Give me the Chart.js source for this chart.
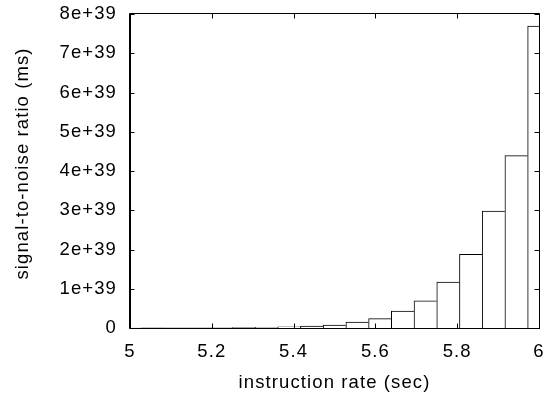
<!DOCTYPE html>
<html><head><meta charset="utf-8">
<script src="https://cdn.jsdelivr.net/npm/chart.js@4/dist/chart.umd.min.js"></script>
<style>html,body{margin:0;padding:0;background:#fff}#wrap{width:552px;height:395px}</style>
</head><body><div id="wrap"><canvas id="c" width="552" height="395"></canvas></div>
<script>
// ---- data ----
const xValues = [5, 5.0556, 5.1111, 5.1667, 5.2222, 5.2778, 5.3333, 5.3889, 5.4444, 5.5,
                 5.5556, 5.6111, 5.6667, 5.7222, 5.7778, 5.8333, 5.8889, 5.9444, 6];
const snrValues = [0.001e39, 0.0017e39, 0.0028e39, 0.0045e39, 0.0072e39, 0.0115e39, 0.019e39, 0.03e39, 0.048e39, 0.077e39,
                   0.15e39, 0.237e39, 0.43e39, 0.69e39, 1.17e39, 1.88e39, 2.98e39, 4.39e39, 7.69e39];
const xTickValues = [5, 5.2, 5.4, 5.6, 5.8, 6];
const xTickLabels = ['5', '5.2', '5.4', '5.6', '5.8', '6'];
const yTickValues = [0, 1e39, 2e39, 3e39, 4e39, 5e39, 6e39, 7e39, 8e39];
const yTickLabels = ['0', '1e+39', '2e+39', '3e+39', '4e+39', '5e+39', '6e+39', '7e+39', '8e+39'];
const xTitle = 'instruction rate (sec)';
const yTitle = 'signal-to-noise ratio (ms)';

const FONT_FAMILY = "'Liberation Sans', Arial, sans-serif";
const FONT_SIZE = 18.5;
const SPACING = '1.1px';
Chart.defaults.font.family = FONT_FAMILY;
Chart.defaults.font.size = FONT_SIZE;
Chart.defaults.color = '#000';

const frame = {
  id: 'frame',
  beforeUpdate(chart) { chart.ctx.letterSpacing = SPACING; },
  beforeDraw(chart) { chart.ctx.letterSpacing = SPACING; },
  afterDatasetsDraw(chart) {
    const {ctx, chartArea: a, scales: {x, y}} = chart;
    const L = a.left - 0.5, R = a.right + 0.5, T = a.top - 0.5, B = a.bottom + 0.5;
    const tl = 5;
    ctx.save();
    ctx.strokeStyle = '#000';
    ctx.lineWidth = 1;
    ctx.beginPath();
    ctx.rect(L, T, R - L, B - T);
    xTickValues.forEach(v => {
      const px = Math.round(x.getPixelForValue(v)) + 0.5;
      ctx.moveTo(px, B); ctx.lineTo(px, B - tl);
      ctx.moveTo(px, T); ctx.lineTo(px, T + tl);
    });
    yTickValues.forEach(v => {
      const py = Math.round(y.getPixelForValue(v)) + 0.5;
      ctx.moveTo(L, py); ctx.lineTo(L + tl, py);
      ctx.moveTo(R, py); ctx.lineTo(R - tl, py);
    });
    ctx.stroke();
    ctx.restore();
  },
  afterDraw(chart) {
    // y-axis title (rotated), placed as in the reference
    const {ctx} = chart;
    ctx.save();
    ctx.letterSpacing = SPACING;
    ctx.font = FONT_SIZE + 'px ' + FONT_FAMILY;
    ctx.fillStyle = '#000';
    ctx.textAlign = 'center';
    ctx.textBaseline = 'alphabetic';
    ctx.translate(28, 164);
    ctx.rotate(-Math.PI / 2);
    ctx.fillText(yTitle, 0.55, 0);
    ctx.restore();
  }
};

new Chart(document.getElementById('c'), {
  type: 'bar',
  data: {
    datasets: [{
      data: xValues.map((x, i) => ({x: x, y: snrValues[i]})),
      backgroundColor: '#fff',
      borderColor: '#000',
      borderWidth: {left: 1, top: 1, right: 0, bottom: 0},
      barPercentage: 1,
      categoryPercentage: 1,
      clip: 0
    }]
  },
  options: {
    responsive: false,
    animation: false,
    devicePixelRatio: 1,
    layout: {padding: {left: 0, top: 14, right: 13, bottom: 0}},
    plugins: {legend: {display: false}, tooltip: {enabled: false}},
    scales: {
      x: {
        type: 'linear', min: 5, max: 6, offset: false,
        grid: {display: false, drawTicks: false, offset: false},
        border: {display: true, color: '#000'},
        afterBuildTicks: s => { s.ticks = xTickValues.map(v => ({value: v})); },
        afterFit: s => { s.height = 67; s.paddingLeft = 0; s.paddingRight = 0; },
        ticks: {padding: 13, maxRotation: 0, autoSkip: false, callback: (v, i) => xTickLabels[i]},
        title: {display: true, text: xTitle, padding: {top: 0, bottom: 1}}
      },
      y: {
        min: 0, max: 8e39,
        grid: {display: false, drawTicks: false},
        border: {display: true, color: '#000'},
        afterBuildTicks: s => { s.ticks = yTickValues.map(v => ({value: v})); },
        afterFit: s => { s.width = 130; s.paddingTop = 0; s.paddingBottom = 0; },
        ticks: {padding: 13, autoSkip: false, callback: (v, i) => yTickLabels[i]},
        title: {display: false}
      }
    }
  },
  plugins: [frame]
});
</script>
</body></html>
